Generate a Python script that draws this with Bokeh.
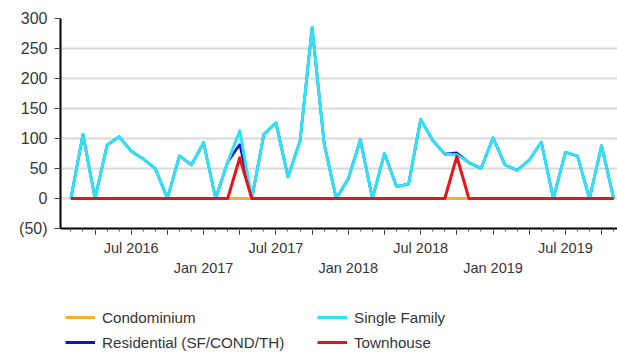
import datetime as dt
from bokeh.plotting import figure
from bokeh.layouts import column
from bokeh.models import (Range1d, FixedTicker, LinearAxis, Legend, LegendItem,
                          ColumnDataSource)
from bokeh.embed import file_html
from bokeh.resources import INLINE

# ---------------- data ----------------
months = ["2016-02", "2016-03", "2016-04", "2016-05", "2016-06", "2016-07",
          "2016-08", "2016-09", "2016-10", "2016-11", "2016-12",
          "2017-01", "2017-02", "2017-03", "2017-04", "2017-05", "2017-06",
          "2017-07", "2017-08", "2017-09", "2017-10", "2017-11", "2017-12",
          "2018-01", "2018-02", "2018-03", "2018-04", "2018-05", "2018-06",
          "2018-07", "2018-08", "2018-09", "2018-10", "2018-11", "2018-12",
          "2019-01", "2019-02", "2019-03", "2019-04", "2019-05", "2019-06",
          "2019-07", "2019-08", "2019-09", "2019-10", "2019-11"]

single_family = [0, 107, 0, 89, 103, 79, 66, 50, 0, 71, 56,
                 93, 0, 61, 113, 0, 107, 126, 36, 96, 285, 91, 0,
                 33, 98, 0, 75, 20, 24, 132, 97, 74, 73, 60, 50,
                 101, 56, 47, 64, 94, 0, 77, 71, 0, 88, 0]

residential = [0, 107, 0, 89, 103, 79, 66, 50, 0, 71, 56,
               93, 0, 61, 90, 0, 107, 126, 36, 96, 285, 91, 0,
               33, 98, 0, 75, 20, 24, 132, 97, 74, 76, 60, 50,
               101, 56, 47, 64, 94, 0, 77, 71, 0, 88, 0]

townhouse = [0, 0, 0, 0, 0, 0, 0, 0, 0, 0, 0,
             0, 0, 0, 68, 0, 0, 0, 0, 0, 0, 0, 0,
             0, 0, 0, 0, 0, 0, 0, 0, 0, 70, 0, 0,
             0, 0, 0, 0, 0, 0, 0, 0, 0, 0, 0]

condominium = [0, 0, 0, 0, 0, 0, 0, 0, 0, 0, 0,
               0, 0, 0, 0, 0, 0, 0, 0, 0, 0, 0, 0,
               0, 0, 0, 0, 0, 0, 0, 0, 0, 0, 0, 0,
               0, 0, 0, 0, 0, 0, 0, 0, 0, 0, 0]

series_names = ["Condominium", "Residential (SF/COND/TH)", "Single Family", "Townhouse"]
series_colors = ["#F5B02E", "#0A14C8", "#2FE3F4", "#E8141C"]

y_ticks = [-50, 0, 50, 100, 150, 200, 250, 300]
y_tick_labels = ["(50)", "0", "50", "100", "150", "200", "250", "300"]

jul_labels = ["Jul 2016", "Jul 2017", "Jul 2018", "Jul 2019"]
jan_labels = ["Jan 2017", "Jan 2018", "Jan 2019"]

BASE_YEAR = 2016


def month_index(d):
    return (d.year - BASE_YEAR) * 12 + (d.month - 1)


x = [month_index(dt.datetime.strptime(m, "%Y-%m")) for m in months]
jul_pos = [month_index(dt.datetime.strptime(s, "%b %Y")) for s in jul_labels]
jan_pos = [month_index(dt.datetime.strptime(s, "%b %Y")) for s in jan_labels]

quarter_ticks = [t for t in range(x[0] - 1, x[-1] + 1) if t % 3 == 0 and t > 0]
month_ticks = list(range(x[0] - 1, x[-1] + 1))

src = ColumnDataSource(dict(x=x, cond=condominium, res=residential,
                            sf=single_family, th=townhouse))
cols = ["cond", "res", "sf", "th"]

# ---------------- main chart ----------------
FONT = "Liberation Sans"
TXT = "#363636"

p = figure(width=617, height=290, output_backend="svg", toolbar_location=None,
           x_range=Range1d(0.138, 46.32), y_range=Range1d(-50, 300),
           x_axis_type=None,
           min_border_left=60, min_border_right=0, min_border_top=18,
           min_border_bottom=62)
p.outline_line_color = None
p.background_fill_color = "white"

# y axis
yax = p.yaxis[0]
yax.ticker = FixedTicker(ticks=y_ticks)
yax.major_label_overrides = dict(zip(y_ticks, y_tick_labels))
yax.axis_line_width = 2
yax.axis_line_color = "black"
yax.major_tick_out = 6
yax.major_tick_in = 0
yax.major_tick_line_color = "#444444"
yax.minor_tick_line_color = None
yax.major_label_standoff = 7
yax.major_label_text_font = FONT
yax.major_label_text_font_size = "16px"
yax.major_label_text_color = TXT

p.ygrid.ticker = FixedTicker(ticks=y_ticks)
p.ygrid.grid_line_color = "#D9D9D9"
p.ygrid.grid_line_width = 2
for g in p.xgrid:
    g.visible = False

# x axis A: ticks + July labels
ax_a = LinearAxis(ticker=FixedTicker(ticks=quarter_ticks, minor_ticks=month_ticks))
ax_a.major_label_overrides = {t: (jul_labels[jul_pos.index(t)] if t in jul_pos else "")
                              for t in quarter_ticks}
ax_a.axis_line_width = 2
ax_a.axis_line_color = "black"
ax_a.major_tick_out = 6
ax_a.major_tick_in = 0
ax_a.major_tick_line_color = "#333333"
ax_a.minor_tick_out = 3
ax_a.minor_tick_in = 0
ax_a.minor_tick_line_color = "#555555"
ax_a.major_label_standoff = 5
ax_a.major_label_text_font = FONT
ax_a.major_label_text_font_size = "14.5px"
ax_a.major_label_text_color = TXT
p.add_layout(ax_a, "below")

# x axis B: January labels (second row)
ax_b = LinearAxis(ticker=FixedTicker(ticks=jan_pos, minor_ticks=[]))
ax_b.major_label_overrides = dict(zip(jan_pos, jan_labels))
ax_b.axis_line_color = None
ax_b.major_tick_line_color = None
ax_b.minor_tick_line_color = None
ax_b.major_tick_out = 0
ax_b.major_tick_in = 0
ax_b.major_label_standoff = 1
ax_b.major_label_text_font = FONT
ax_b.major_label_text_font_size = "14.5px"
ax_b.major_label_text_color = TXT
p.add_layout(ax_b, "below")

# lines
widths = [3, 2.6, 3, 3]
for col, color, w in zip(cols, series_colors, widths):
    p.line("x", col, source=src, line_color=color, line_width=w,
           line_join="round")

# ---------------- legend strip ----------------
# the same series drawn outside this strip's visible range: only their keys show
pl = figure(width=617, height=62, output_backend="svg", toolbar_location=None,
            x_range=Range1d(-1000, -999), y_range=Range1d(-1000, -999),
            x_axis_type=None, y_axis_type=None,
            min_border_left=0, min_border_right=0, min_border_top=0,
            min_border_bottom=0)
pl.outline_line_color = None
pl.xgrid.visible = False
pl.ygrid.visible = False
key_renderers = [pl.line("x", col, source=src, line_color=c, line_width=3)
                 for col, c in zip(cols, series_colors)]

legend = Legend(items=[LegendItem(label=n, renderers=[r])
                       for n, r in zip(series_names, key_renderers)],
                location=(5, 0), orientation="vertical", nrows=2,
                margin=0, padding=0, spacing=5,
                glyph_width=30, glyph_height=20, label_height=20,
                label_width=210, label_standoff=7,
                label_text_font=FONT, label_text_font_size="15.2px",
                label_text_color=TXT,
                border_line_color=None, background_fill_alpha=0)
pl.add_layout(legend, "center")

layout = column(p, pl, spacing=0)
open("out.html", "w").write(file_html(layout, INLINE))
